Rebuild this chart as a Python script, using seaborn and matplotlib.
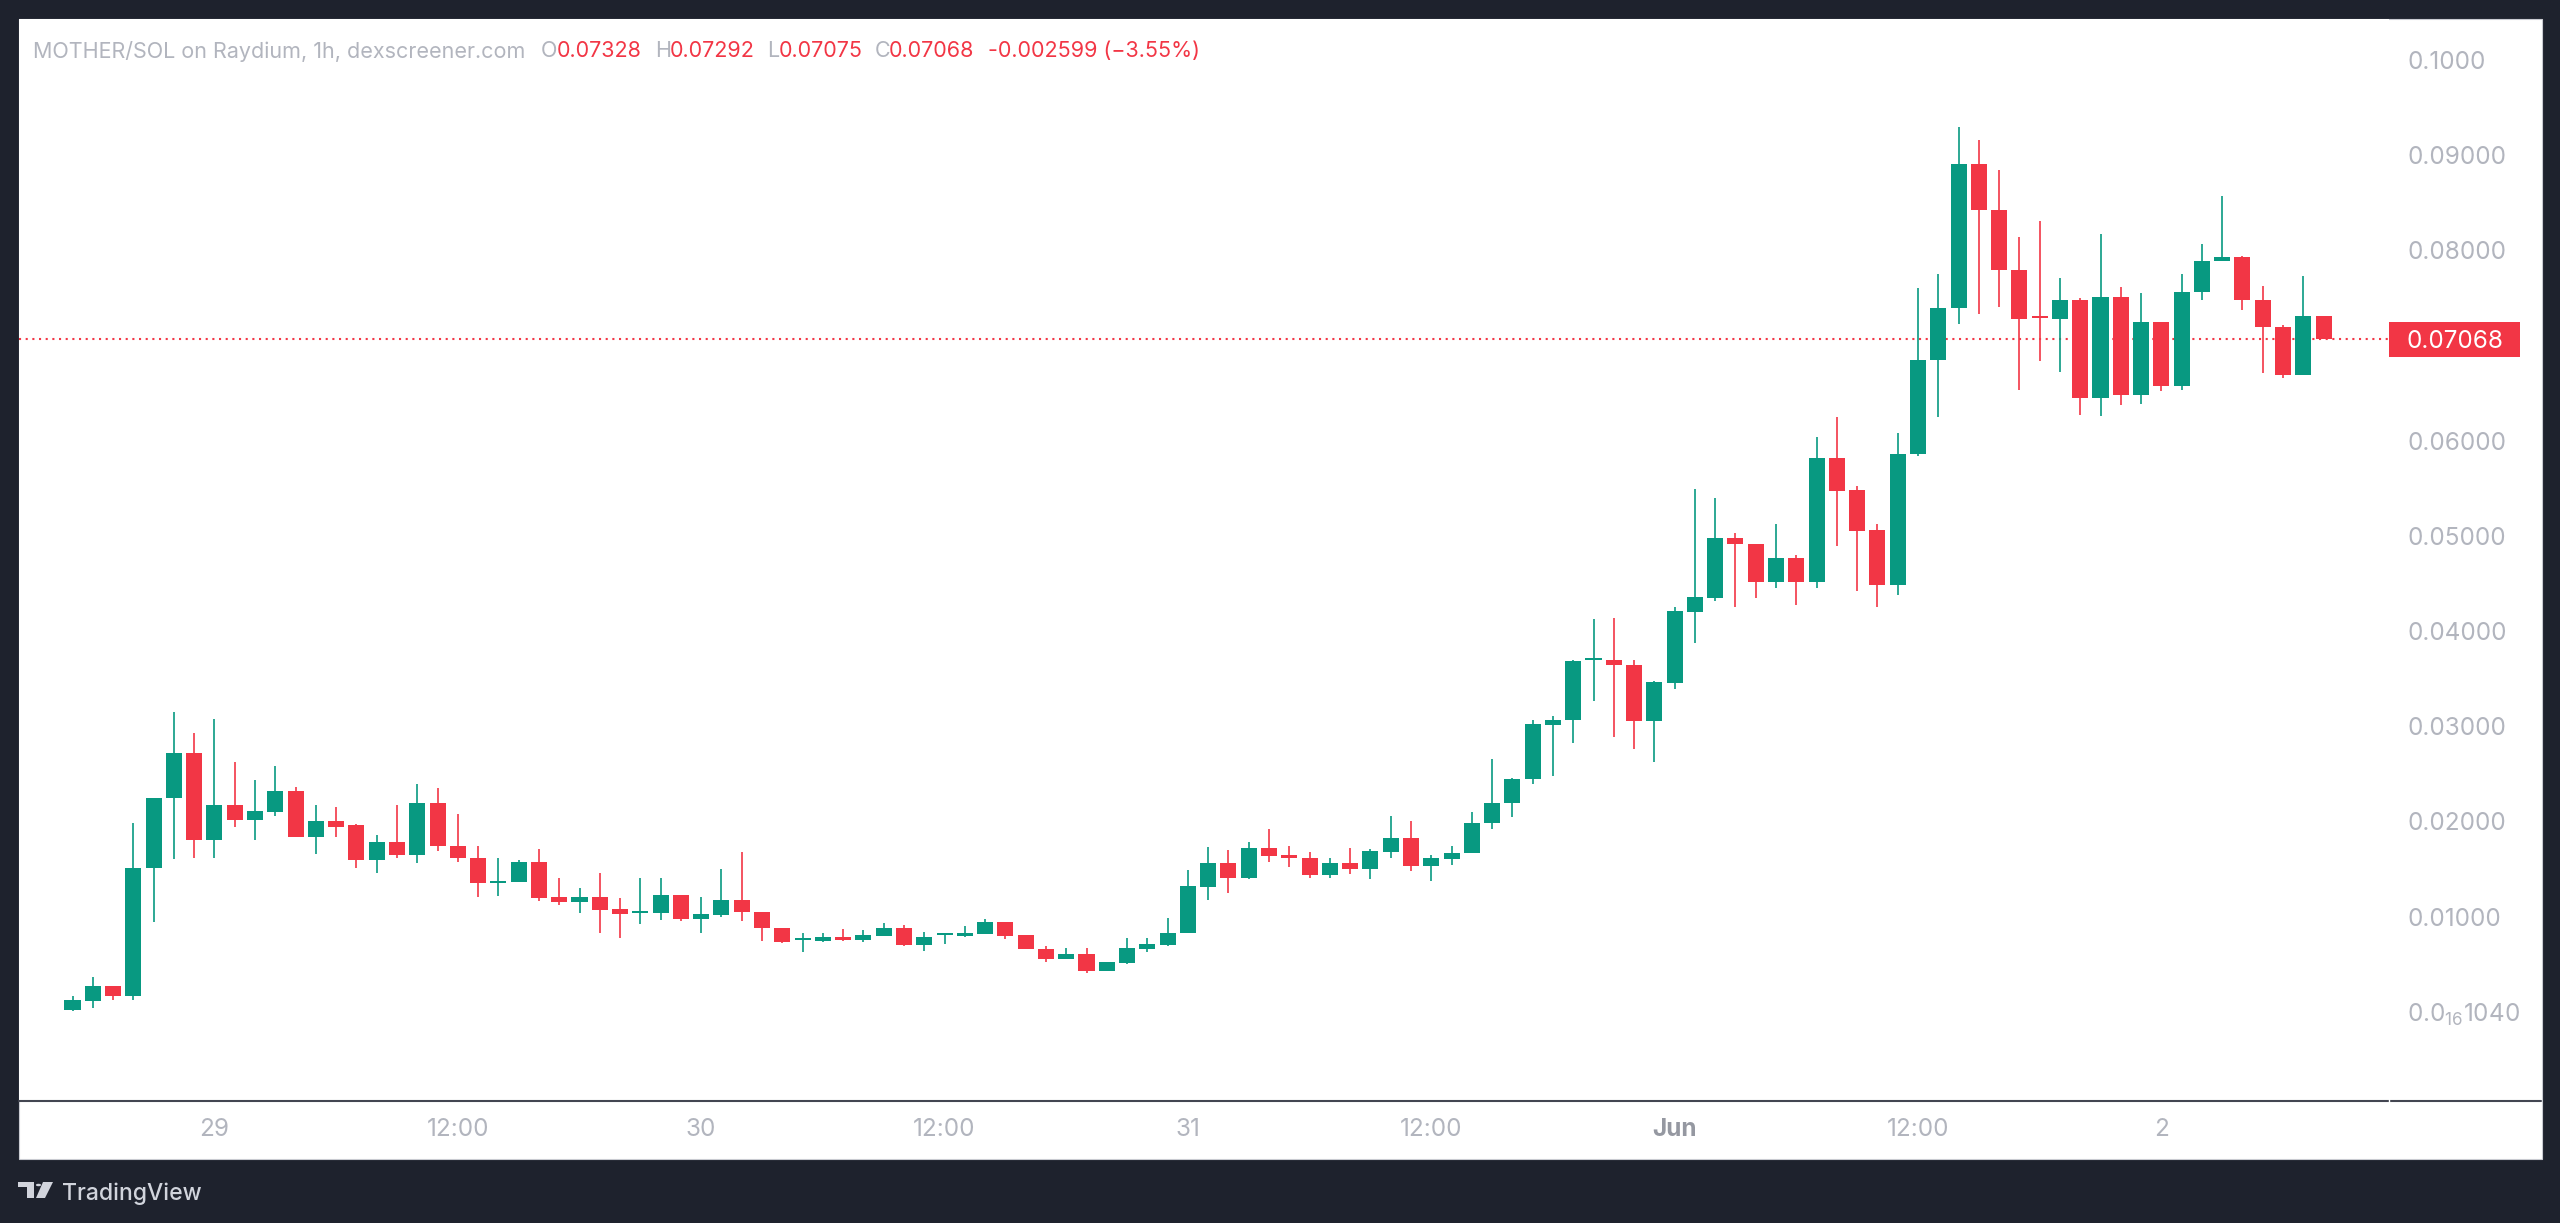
import numpy as np
import matplotlib
matplotlib.use("Agg")
import matplotlib.pyplot as plt
import matplotlib.transforms as mtransforms
from matplotlib.patches import Rectangle, Polygon, Circle
from matplotlib.lines import Line2D
import seaborn as sns

# ---------------- data (hourly candles, MOTHER/SOL) ----------------
opens = [0.0002, 0.0011, 0.0027, 0.0017, 0.0151, 0.0225, 0.0272, 0.0180, 0.0217, 0.0201,
         0.0210, 0.0232, 0.0184, 0.0200, 0.0196, 0.0159, 0.0178, 0.0165, 0.0219, 0.0174,
         0.0162, 0.0135, 0.0136, 0.0157, 0.0121, 0.0115, 0.0121, 0.0108, 0.0104, 0.0104,
         0.0123, 0.0097, 0.0102, 0.0117, 0.0105, 0.0088, 0.0075, 0.0074, 0.0079, 0.0075,
         0.0080, 0.0088, 0.0070, 0.00806, 0.0080, 0.0082, 0.0094, 0.0081, 0.0066, 0.0055,
         0.0061, 0.0043, 0.0051, 0.0066, 0.0070, 0.0083, 0.0131, 0.0156, 0.0140, 0.0172,
         0.0165, 0.0162, 0.0144, 0.0156, 0.0150, 0.0168, 0.0183, 0.0153, 0.0160, 0.0167,
         0.0198, 0.0219, 0.0245, 0.0301, 0.0307, 0.0370, 0.0370, 0.0364, 0.0305, 0.0345,
         0.0420, 0.0435, 0.0498, 0.0492, 0.0452, 0.0477, 0.0452, 0.0582, 0.0548, 0.0506,
         0.0448, 0.0586, 0.0685, 0.0739, 0.0891, 0.0843, 0.0779, 0.0730, 0.0728, 0.0748,
         0.0645, 0.0751, 0.0648, 0.0725, 0.0658, 0.0756, 0.0789, 0.0793, 0.0748, 0.0720,
         0.0669, 0.0731]
highs = [0.0016, 0.0036, 0.0027, 0.0198, 0.0225, 0.0315, 0.0293, 0.0308, 0.0262, 0.0244,
         0.0258, 0.0236, 0.0217, 0.0215, 0.0197, 0.0186, 0.0217, 0.0239, 0.0235, 0.0208,
         0.0174, 0.0161, 0.0159, 0.0171, 0.0140, 0.0130, 0.0146, 0.0120, 0.0140, 0.0140,
         0.0123, 0.0121, 0.0150, 0.0168, 0.0105, 0.0088, 0.0083, 0.0083, 0.0087, 0.0086,
         0.0093, 0.0091, 0.0084, 0.00813, 0.0090, 0.0097, 0.0094, 0.0081, 0.0069, 0.0067,
         0.0067, 0.0052, 0.0077, 0.0077, 0.0098, 0.0149, 0.0173, 0.0170, 0.0178, 0.0192,
         0.0174, 0.0168, 0.0162, 0.0172, 0.0171, 0.0206, 0.0200, 0.0165, 0.0174, 0.0210,
         0.0266, 0.0246, 0.0307, 0.0311, 0.0370, 0.0413, 0.0414, 0.0370, 0.0348, 0.0425,
         0.0549, 0.0540, 0.0503, 0.0492, 0.0513, 0.0480, 0.0604, 0.0625, 0.0552, 0.0513,
         0.0608, 0.0761, 0.0775, 0.0930, 0.0916, 0.0885, 0.0814, 0.0831, 0.0771, 0.0750,
         0.0817, 0.0762, 0.0755, 0.0725, 0.0775, 0.0807, 0.0857, 0.0794, 0.0763, 0.0722,
         0.0773, 0.0731]
lows = [0.0001, 0.0004, 0.0012, 0.0012, 0.0094, 0.0160, 0.0162, 0.0162, 0.0194, 0.0180,
        0.0206, 0.0184, 0.0166, 0.0184, 0.0151, 0.0146, 0.0162, 0.0156, 0.0169, 0.0157,
        0.0121, 0.0122, 0.0136, 0.0116, 0.0112, 0.0104, 0.0083, 0.0077, 0.0092, 0.0096,
        0.0095, 0.0083, 0.0099, 0.0095, 0.0074, 0.0072, 0.0063, 0.0073, 0.0074, 0.0073,
        0.0080, 0.0069, 0.0064, 0.0071, 0.0078, 0.0082, 0.0076, 0.0066, 0.0052, 0.0055,
        0.0041, 0.0043, 0.0050, 0.0063, 0.0069, 0.0083, 0.0117, 0.0125, 0.0139, 0.0157,
        0.0152, 0.0140, 0.0140, 0.0145, 0.0139, 0.0162, 0.0148, 0.0137, 0.0154, 0.0167,
        0.0192, 0.0205, 0.0239, 0.0248, 0.0282, 0.0327, 0.0289, 0.0276, 0.0262, 0.0339,
        0.0387, 0.0432, 0.0425, 0.0435, 0.0445, 0.0427, 0.0445, 0.0489, 0.0442, 0.0425,
        0.0438, 0.0584, 0.0625, 0.0723, 0.0733, 0.0741, 0.0653, 0.0684, 0.0672, 0.0627,
        0.0626, 0.0638, 0.0639, 0.0652, 0.0653, 0.0748, 0.0789, 0.0737, 0.0671, 0.0666,
        0.0669, 0.0707]
closes = [0.0012, 0.0027, 0.0017, 0.0151, 0.0225, 0.0272, 0.0180, 0.0217, 0.0201, 0.0211,
          0.0232, 0.0184, 0.0200, 0.0194, 0.0159, 0.0178, 0.0165, 0.0219, 0.0174, 0.0161,
          0.0135, 0.0137, 0.0157, 0.0120, 0.0115, 0.0121, 0.0107, 0.0103, 0.0105, 0.0123,
          0.0097, 0.0103, 0.0117, 0.0105, 0.0088, 0.0073, 0.0076, 0.0079, 0.0075, 0.0081,
          0.0088, 0.0070, 0.0079, 0.00813, 0.0082, 0.0094, 0.0080, 0.0066, 0.0055, 0.0061,
          0.0043, 0.0052, 0.0067, 0.0071, 0.0083, 0.0132, 0.0156, 0.0140, 0.0172, 0.0164,
          0.0161, 0.0144, 0.0156, 0.0150, 0.0169, 0.0183, 0.0153, 0.0161, 0.0167, 0.0198,
          0.0219, 0.0245, 0.0302, 0.0307, 0.0369, 0.0371, 0.0364, 0.0305, 0.0346, 0.0421,
          0.0436, 0.0498, 0.0491, 0.0452, 0.0477, 0.0452, 0.0582, 0.0547, 0.0505, 0.0448,
          0.0586, 0.0685, 0.0739, 0.0891, 0.0842, 0.0779, 0.0728, 0.0729, 0.0748, 0.0645,
          0.0751, 0.0648, 0.0725, 0.0658, 0.0756, 0.0789, 0.0793, 0.0748, 0.0720, 0.0669,
          0.0731, 0.07068]

ytick_values = [0.0, 0.01, 0.02, 0.03, 0.04, 0.05, 0.06, 0.07, 0.08, 0.09, 0.10]
ytick_labels = [r"0.0$_{16}$1040", "0.01000", "0.02000", "0.03000", "0.04000",
                "0.05000", "0.06000", "", "0.08000", "0.09000", "0.1000"]
xtick_idx = [7, 19, 31, 43, 55, 67, 79, 91, 103]
xtick_labels = ["29", "12:00", "30", "12:00", "31", "12:00", "Jun", "12:00", "2"]

header_pair = ["MOTHER/SOL on Raydium, 1h, dexscreener.com"]
header_keys = ["O", "H", "L", "C"]
header_vals = ["0.07328", "0.07292", "0.07075", "0.07068"]
header_change = "-0.002599 (\u22123.55%)"
last_price_label = "0.07068"

# ---------------- style ----------------
sns.set_theme(style="white")
plt.rcParams["font.family"] = ["Inter", "DejaVu Sans"]
plt.rcParams["mathtext.fontset"] = "custom"
plt.rcParams["mathtext.rm"] = "Inter"
plt.rcParams["mathtext.default"] = "regular"

GREEN = "#089981"
RED = "#f23645"
GRAY = "#b2b5be"
DARK = "#1e222d"

W, H = 2560, 1223
fig = plt.figure(figsize=(W / 100, H / 100), dpi=100)
fig.patch.set_facecolor(DARK)

def fx(px):
    return px / W

def fy(py):
    return 1 - py / H

# white panel
fig.add_artist(Rectangle((fx(18.5), fy(1158.5)), fx(2541.5) - fx(18.5), fy(18.5) - fy(1158.5),
                         transform=fig.transFigure, facecolor="white",
                         edgecolor="#c9cbd1", lw=0.8, zorder=0))

# axes area (plot region)
L_PX, R_PX, T_PX, B_PX = 19, 2389, 19, 1101
ax = fig.add_axes([fx(L_PX), fy(B_PX), fx(R_PX) - fx(L_PX), fy(T_PX) - fy(B_PX)])
ax.set_facecolor("white")
sns.despine(ax=ax, left=True, bottom=True, right=True, top=True)

n = len(opens)
idx = np.arange(n)
o = np.array(opens); h = np.array(highs); l = np.array(lows); c = np.array(closes)
up = c >= o
colors = np.where(up, GREEN, RED)

ax.vlines(idx, l, h, colors=colors, lw=1.2, zorder=2)
body_bottom = np.minimum(o, c)
body_h = np.maximum(np.abs(c - o), 0.00022)
ax.bar(idx, body_h, bottom=body_bottom, width=0.79, color=colors, linewidth=0, zorder=3)

# limits so that candle spacing / y scale match
px_per_candle = 20.28
x0 = -(72.5 - L_PX) / px_per_candle
ax.set_xlim(x0, x0 + (R_PX - L_PX) / px_per_candle)
ax.set_ylim((1011.7 - B_PX) / 9516, (1011.7 - T_PX) / 9516)

# last price dotted line
last = closes[-1]
ax.axhline(last, color=RED, lw=1.5, linestyle=(0, (1.0, 2.2)), zorder=1)

# y ticks on right
ax.yaxis.tick_right()
ax.set_yticks(ytick_values)
ax.set_yticklabels(ytick_labels)
ax.tick_params(axis="y", length=0, pad=13, labelsize=17.5, labelcolor=GRAY)

# x ticks
ax.set_xticks(xtick_idx)
ax.set_xticklabels(xtick_labels)
ax.tick_params(axis="x", length=0, pad=12, labelsize=17.5, labelcolor=GRAY)
for t in ax.get_xticklabels():
    if t.get_text() == "Jun":
        t.set_fontweight("bold")
        t.set_color("#9598a1")
ax.grid(False)

# last price tag
blend = mtransforms.blended_transform_factory(ax.transAxes, ax.transData)
half = 17.5 / 9516
ax.add_patch(Rectangle((1.0, last - half), 131 / (R_PX - L_PX), 2 * half, transform=blend,
                       facecolor=RED, edgecolor="none", clip_on=False, zorder=5))
ax.text(1.0 + 18 / (R_PX - L_PX), last, last_price_label, transform=blend, ha="left",
        va="center_baseline", color="white", fontsize=17.5, zorder=6, clip_on=False)

# bottom axis separator line
fig.add_artist(Line2D([fx(19), fx(2541)], [fy(1101), fy(1101)], transform=fig.transFigure,
                      color="#434651", lw=1.5))
fig.add_artist(Line2D([fx(2389), fx(2389)], [fy(1099), fy(1103)], transform=fig.transFigure,
                      color="white", lw=1.0))

# header
hy = fy(49)
fig.text(fx(33), hy, header_pair[0], color=GRAY, fontsize=15.5, va="center_baseline")
key_x = [541, 655, 767, 875]
val_x = [557, 670, 779, 889]
for k, kx, v, vx in zip(header_keys, key_x, header_vals, val_x):
    fig.text(fx(kx), hy, k, color=GRAY, fontsize=15.5, va="center_baseline")
    fig.text(fx(vx), hy, v, color=RED, fontsize=15.5, va="center_baseline")
fig.text(fx(988), hy, header_change, color=RED, fontsize=15.5, va="center_baseline")

# TradingView logo + text
logo_col = "#d1d4dc"
fig.add_artist(Polygon([(fx(18), fy(1182)), (fx(34), fy(1182)), (fx(34), fy(1198)),
                        (fx(27), fy(1198)), (fx(27), fy(1187)), (fx(18), fy(1187))],
                       closed=True, transform=fig.transFigure, facecolor=logo_col, edgecolor="none"))
fig.add_artist(Circle((fx(38.5), fy(1185)), 2.6 / W, transform=fig.transFigure,
                      facecolor=logo_col, edgecolor="none"))
fig.add_artist(Polygon([(fx(43), fy(1182)), (fx(53), fy(1182)), (fx(45), fy(1198)),
                        (fx(36), fy(1198))],
                       closed=True, transform=fig.transFigure, facecolor=logo_col, edgecolor="none"))
fig.text(fx(62), fy(1191), "TradingView", color=logo_col, fontsize=16.5,
         fontweight="medium", va="center_baseline")

fig.savefig("out.png", dpi=100, facecolor=fig.get_facecolor())
